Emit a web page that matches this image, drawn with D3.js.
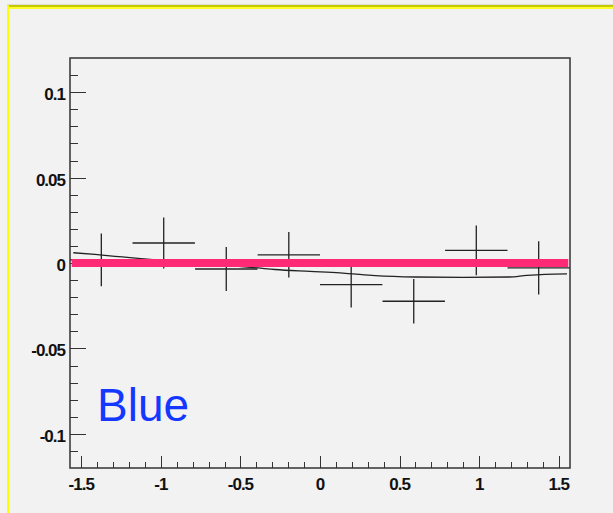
<!DOCTYPE html>
<html lang="en">
<head>
<meta charset="UTF-8">
<title>Blue</title>
<script src="https://cdn.jsdelivr.net/npm/d3@7"></script>
<style>
  body { margin: 0; background: #f2f2f2; }
  svg { display: block; }
</style>
</head>
<body>
<svg width="613" height="513"></svg>
<script>
    var binCenters = [-1.374, -0.982, -0.589, -0.196, 0.196, 0.589, 0.982, 1.374]
    var binHalfWidth = [0.196, 0.196, 0.196, 0.196, 0.196, 0.196, 0.196, 0.196]
    var values = [0.0018, 0.0117, -0.0035, 0.0048, -0.0126, -0.0224, 0.0074, -0.0029]
    var errors = [0.0154, 0.0149, 0.0129, 0.0133, 0.0135, 0.013, 0.0146, 0.0156]

    // thin fitted curve, sampled by eye
    var curveX = [-1.55, -1.414, -1.288, -1.194, -1.068, -0.7, -0.39, -0.283, -0.063, 0.126, 0.207, 0.346, 0.597, 0.9, 1.188, 1.3, 1.414, 1.552]
    var curveY = [0.006, 0.005, 0.0039, 0.0032, 0.0021, -0.0005, -0.0029, -0.0038, -0.0049, -0.0058, -0.0064, -0.0074, -0.0082, -0.0084, -0.0082, -0.0072, -0.0066, -0.0064]

    // reference line at zero
    var refLineX = [-1.56, 1.56]
    var refLineY = [0, 0]

    var xTicks = [-1.5, -1, -0.5, 0, 0.5, 1, 1.5]
    var yTicks = [-0.1, -0.05, 0, 0.05, 0.1]
    var label = "Blue"

    var svg = d3.select("svg")

    // canvas background + yellow pad border
    svg.append("rect").attr("x", 0).attr("y", 0).attr("width", 613).attr("height", 513).attr("fill", "#f2f2f2")
    svg.append("rect").attr("x", 7).attr("y", 4).attr("width", 606).attr("height", 1).attr("fill", "#dcdcd0")
    svg.append("rect").attr("x", 7).attr("y", 5).attr("width", 606).attr("height", 2).attr("fill", "#c8c800")
    svg.append("rect").attr("x", 7).attr("y", 7).attr("width", 606).attr("height", 2).attr("fill", "#ffff30")
    svg.append("rect").attr("x", 7).attr("y", 5).attr("width", 2).attr("height", 508).attr("fill", "#ffff00")

    var x = d3.scaleLinear()
            .domain([-Math.PI / 2, Math.PI / 2])
            .range([70, 570]);
    var y = d3.scaleLinear()
            .domain([-0.12, 0.12])
            .range([468, 58]);

    var axisColor = "#333"
    var tickFont = "'Liberation Sans', Arial, sans-serif"

    // frame
    svg.append("rect")
            .attr("x", 70).attr("y", 58)
            .attr("width", 500).attr("height", 410)
            .attr("fill", "none")
            .attr("stroke", axisColor)
            .attr("stroke-width", 1.5);

    // x ticks (inside the frame, ROOT style)
    var xMinor = d3.range(-15, 16).map(function(i) { return i / 10; });
    svg.append("g").selectAll("line")
            .data(xMinor)
            .join("line")
            .attr("x1", function(d) { return Math.round(x(d)) + 0.5; })
            .attr("x2", function(d) { return Math.round(x(d)) + 0.5; })
            .attr("y1", 468)
            .attr("y2", function(d) { return Math.abs(d * 2 - Math.round(d * 2)) < 1e-6 ? 456 : 462; })
            .attr("stroke", axisColor);

    svg.append("g").selectAll("text")
            .data(xTicks)
            .join("text")
            .attr("x", function(d) { return x(d); })
            .attr("y", 490)
            .attr("text-anchor", "middle")
            .attr("font-family", tickFont)
            .attr("font-weight", "bold")
            .attr("font-size", 17)
            .attr("letter-spacing", -1)
            .attr("fill", "#111")
            .text(function(d) { return String(d); });

    // y ticks
    var yMinor = d3.range(-11, 12).map(function(i) { return i / 100; });
    svg.append("g").selectAll("line")
            .data(yMinor)
            .join("line")
            .attr("x1", 70)
            .attr("x2", function(d) { return Math.abs(d * 20 - Math.round(d * 20)) < 1e-6 ? 86 : 78; })
            .attr("y1", function(d) { return Math.round(y(d)) + 0.5; })
            .attr("y2", function(d) { return Math.round(y(d)) + 0.5; })
            .attr("stroke", axisColor);

    svg.append("g").selectAll("text")
            .data(yTicks)
            .join("text")
            .attr("x", 65)
            .attr("y", function(d) { return y(d) + 8; })
            .attr("text-anchor", "end")
            .attr("font-family", tickFont)
            .attr("font-weight", "bold")
            .attr("font-size", 17)
            .attr("letter-spacing", -1)
            .attr("fill", "#111")
            .text(function(d) { return String(d); });

    // error crosses
    var points = binCenters.map(function(c, i) {
        return { x: c, dx: binHalfWidth[i], y: values[i], dy: errors[i] };
    });
    var crosses = svg.append("g")
            .attr("stroke", "#222")
            .attr("stroke-width", 1.3);
    crosses.selectAll("line.h")
            .data(points)
            .join("line")
            .attr("class", "h")
            .attr("x1", function(d) { return x(d.x - d.dx); })
            .attr("x2", function(d) { return x(d.x + d.dx); })
            .attr("y1", function(d) { return y(d.y); })
            .attr("y2", function(d) { return y(d.y); });
    crosses.selectAll("line.v")
            .data(points)
            .join("line")
            .attr("class", "v")
            .attr("x1", function(d) { return x(d.x); })
            .attr("x2", function(d) { return x(d.x); })
            .attr("y1", function(d) { return y(d.y - d.dy); })
            .attr("y2", function(d) { return y(d.y + d.dy); });

    // fitted curve
    var curvePts = curveX.map(function(v, i) { return [v, curveY[i]]; });
    svg.append("path")
            .datum(curvePts)
            .attr("d", d3.line()
                    .x(function(d) { return x(d[0]); })
                    .y(function(d) { return y(d[1]); })
                    .curve(d3.curveMonotoneX))
            .attr("fill", "none")
            .attr("stroke", "#222")
            .attr("stroke-width", 1.3);

    // thick pink reference line
    svg.append("line")
            .attr("x1", x(refLineX[0]))
            .attr("x2", x(refLineX[1]))
            .attr("y1", y(refLineY[0]))
            .attr("y2", y(refLineY[1]))
            .attr("stroke", "#ff2a76")
            .attr("stroke-width", 8);

    // label
    svg.append("text")
            .attr("x", 97)
            .attr("y", 421)
            .attr("font-family", "'Liberation Sans', Arial, sans-serif")
            .attr("font-size", 46)
            .attr("fill", "#1438ff")
            .text(label);
</script>
</body>
</html>
